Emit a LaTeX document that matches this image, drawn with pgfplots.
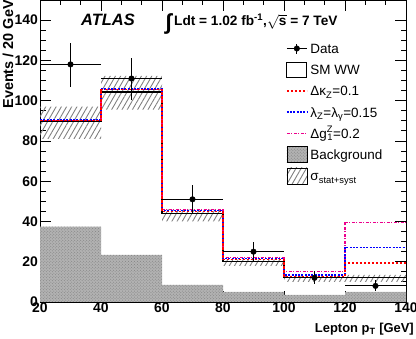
\documentclass[border=0pt]{standalone}
\usepackage{pgfplots}
\pgfplotsset{compat=1.18}
\usepgfplotslibrary{fillbetween}
\usetikzlibrary{patterns,patterns.meta}
\usepackage{fontspec}
\setmainfont{Liberation Sans}

\tikzset{
  hatch/.style={pattern={Lines[angle=60,distance=4.5bp,line width=0.9bp]},pattern color=black!50},
  bkg/.style={fill=black!30,postaction={pattern=crosshatch dots,pattern color=black!50}},
}

\begin{document}
\begin{tikzpicture}
\begin{axis}[name=ax,
  scale only axis, width=366bp, height=302bp,
  xmin=20, xmax=140, ymin=0, ymax=150,
  xtick={20,40,...,140}, ytick={0,20,...,140},
  minor x tick num=2, minor y tick num=3,
  tick align=inside, tick pos=both,
  major tick length=11bp, minor tick length=5.5bp,
  axis line style={line width=0.8bp},
  tick style={line width=0.8bp,black},
  ticklabel style={font=\fontsize{14}{14}\selectfont\bfseries},
  /pgf/number format/assume math mode=true,
  xticklabel style={inner sep=1bp},
  yticklabel style={inner sep=2bp},
  legend cell align=left,
  legend style={draw=none, fill=none, inner sep=0pt,
    at={(rel axis cs:0.6721,0.8665)}, anchor=north west,
    font=\fontsize{13.5}{13.5}\selectfont, row sep=5.1bp,
    nodes={inner ysep=0pt, inner xsep=3bp, text height=13bp, text depth=3bp}},
]
% background
\addplot[bkg, draw=none, const plot, forget plot] coordinates
  {(20,37.4)(40,23.4)(60,8.5)(80,5)(100,3.5)(120,5)(140,5)} \closedcycle;
% uncertainty band
\addplot[name path=bandup, draw=none, const plot, forget plot] coordinates
  {(20,97)(40,112.3)(60,46)(80,21)(100,13)(120,13.5)(140,13.5)};
\addplot[name path=bandlo, draw=none, const plot, forget plot] coordinates
  {(20,81)(40,95.5)(60,40)(80,18)(100,10)(120,10)(140,10)};
\addplot[hatch, forget plot] fill between[of=bandup and bandlo];
% SM WW
\addplot[black, line width=1.3bp, const plot, forget plot] coordinates
  {(20,89.5)(40,104.3)(60,44)(80,20)(100,12)(120,12)(140,12)};
% dg1Z
\addplot[magenta, line width=1.3bp, const plot, forget plot,
  dash pattern=on 3bp off 1.5bp on 1bp off 1.5bp] coordinates
  {(20,90)(40,105.5)(60,45.8)(80,22)(100,15.1)(120,39.4)(140,39.4)};
% lambda
\addplot[blue, line width=1.4bp, const plot, forget plot,
  dash pattern=on 2bp off 1.3bp] coordinates
  {(20,90.3)(40,105.8)(60,45.3)(80,21.5)(100,13.5)(120,27.2)(140,27.2)};
% dkZ
\addplot[red, line width=1.3bp, const plot, forget plot,
  dash pattern=on 2.5bp off 1.5bp] coordinates
  {(20,90)(40,105.5)(60,45)(80,21)(100,12.5)(120,19.3)(140,19.3)};
% data
\addplot[black, only marks, mark=*, mark size=2.8bp, forget plot,
  error bars/.cd, x dir=both, x explicit, y dir=both, y explicit,
  error bar style={line width=1.2bp}, error mark=none] coordinates {
  (30,118) += (10,10.7) -= (10,11)
  (50,111) += (10,10) -= (10,10.5)
  (70,51) += (10,7.3) -= (10,6.8)
  (90,25) += (10,5) -= (10,5)
  (110,12) += (10,3.4) -= (10,3.2)
  (130,8) += (10,3) -= (10,2.5)
};

\addlegendimage{legend image code/.code={
  \draw[line width=1.2bp] (0bp,0bp)--(20bp,0bp);
  \draw[line width=1.2bp] (10bp,-5bp)--(10bp,5bp);
  \fill (10bp,0bp) circle (2.8bp);}}
\addlegendentry{Data}
\addlegendimage{legend image code/.code={
  \draw[line width=1.2bp] (0bp,-7.5bp) rectangle (20bp,7.5bp);}}
\addlegendentry{SM WW}
\addlegendimage{legend image code/.code={
  \draw[red, line width=1.2bp, dash pattern=on 2.5bp off 1.5bp] (0bp,0bp)--(20bp,0bp);}}
\addlegendentry{Δκ\textsubscript{Z}=0.1}
\addlegendimage{legend image code/.code={
  \draw[blue, line width=1.3bp, dash pattern=on 2bp off 1.3bp] (0bp,0bp)--(20bp,0bp);}}
\addlegendentry{λ\textsubscript{Z}=λ\textsubscript{γ}=0.15}
\addlegendimage{legend image code/.code={
  \draw[magenta, line width=1.2bp, dash pattern=on 3bp off 1.5bp on 1bp off 1.5bp] (0bp,0bp)--(20bp,0bp);}}
\addlegendentry{Δg\textsuperscript{Z}\llap{\textsubscript{1}}=0.2}
\addlegendimage{legend image code/.code={
  \path[bkg] (0bp,-8bp) rectangle (20bp,8bp);}}
\addlegendentry{Background}
\addlegendimage{legend image code/.code={
  \path[hatch] (0bp,-8bp) rectangle (20bp,8bp);}}
\addlegendentry{σ\textsubscript{stat+syst}}

\node[anchor=base west, inner sep=0pt, font=\fontsize{16.5}{16.5}\selectfont\bfseries\itshape]
  at (rel axis cs:0.112,0.917) {ATLAS};
\node[anchor=base west, inner sep=0pt, font=\fontsize{13.7}{13.7}\selectfont\bfseries]
  at (rel axis cs:0.3429,0.914)
  {\raisebox{-4bp}{\fontsize{22}{22}\selectfont ∫}\hspace{2.5bp}Ldt = 1.02 fb\textsuperscript{-1},$\sqrt{\hbox{\bfseries s}}$ = 7 TeV};
\end{axis}

\node[rotate=90, anchor=base east, inner sep=0pt, font=\fontsize{14.5}{14.5}\selectfont\bfseries]
  at ([xshift=-27bp]ax.north west) {Events / 20 GeV};
\node[anchor=base east, inner sep=0pt, font=\fontsize{13}{13}\selectfont\bfseries]
  at ([xshift=8bp,yshift=-30bp]ax.south east) {Lepton p\textsubscript{T} [GeV]};

\pgfresetboundingbox
\path ([xshift=-40bp,yshift=-37bp]ax.south west) rectangle ([xshift=10bp]ax.north east);
\end{tikzpicture}
\end{document}
